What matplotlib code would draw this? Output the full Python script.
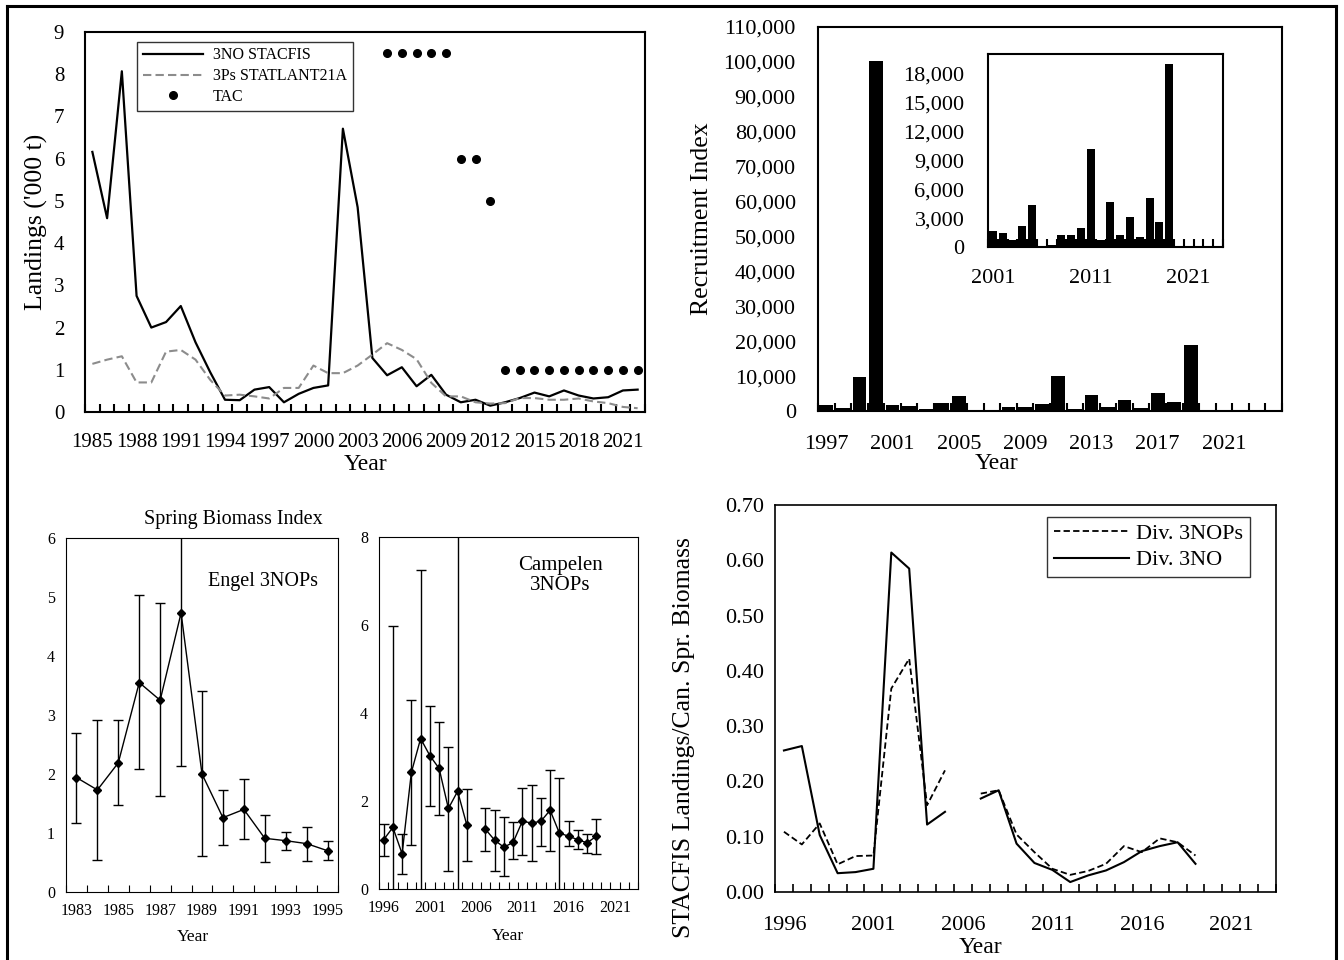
import numpy as np
import matplotlib
matplotlib.use('Agg')
import matplotlib.pyplot as plt
from matplotlib.lines import Line2D
from matplotlib.ticker import FuncFormatter

plt.rcParams['font.family'] = ['Liberation Serif', 'DejaVu Serif']

# ------------------------
# data
# ------------------------

# landings ('000 t)
land_years = np.arange(1985, 2023)
land_3no = [6.16, 4.59, 8.07, 2.75, 2.00, 2.13, 2.51, 1.65, 0.94, 0.29,
            0.28, 0.53, 0.59, 0.23, 0.43, 0.57, 0.63, 6.71, 4.85, 1.28,
            0.87, 1.06, 0.61, 0.88, 0.41, 0.23, 0.29, 0.15, 0.23, 0.33,
            0.46, 0.37, 0.51, 0.39, 0.32, 0.35, 0.51, 0.53]
land_3ps = [1.14, 1.24, 1.32, 0.70, 0.70, 1.43, 1.47, 1.24, 0.76, 0.39,
            0.41, 0.37, 0.32, 0.57, 0.57, 1.10, 0.92, 0.92, 1.10, 1.36,
            1.63, 1.47, 1.25, 0.69, 0.37, 0.37, 0.23, 0.20, 0.21, 0.33,
            0.33, 0.29, 0.29, 0.32, 0.25, 0.21, 0.12, 0.09]
tac_years = np.arange(2005, 2023)
tac = [8.5, 8.5, 8.5, 8.5, 8.5, 6, 6, 5, 1, 1, 1, 1, 1, 1, 1, 1, 1, 1]

# recruitment index
rec_years = np.arange(1997, 2020)
rec_index = [1800, 950, 9700, 100300, 1650, 1450, 700, 2150, 4400, np.nan,
             250, 1200, 1250, 2000, 10150, 700, 4700, 1200, 3100, 1000,
             5100, 2600, 19000]

# Engel spring biomass index 3NOPs
eng_years = np.arange(1983, 1996)
eng_val = [1.94, 1.73, 2.19, 3.55, 3.25, 4.73, 2.00, 1.26, 1.40, 0.91, 0.87, 0.82, 0.70]
eng_hi = [2.69, 2.91, 2.91, 5.03, 4.90, 7.30, 3.40, 1.73, 1.91, 1.31, 1.02, 1.11, 0.86]
eng_lo = [1.17, 0.55, 1.47, 2.09, 1.62, 2.14, 0.61, 0.79, 0.89, 0.51, 0.71, 0.53, 0.54]

# Campelen spring biomass index 3NOPs
camp_years = np.arange(1996, 2020)
camp_val = [1.12, 1.40, 0.80, 2.65, 3.42, 3.03, 2.74, 1.83, 2.22, 1.45, np.nan, 1.36,
            1.11, 0.95, 1.06, 1.54, 1.50, 1.54, 1.79, 1.27, 1.20, 1.12, 1.05, 1.20]
camp_hi = [1.48, 5.98, 1.25, 4.30, 7.26, 4.17, 3.79, 3.23, 9.50, 2.27, np.nan, 1.84,
           1.79, 1.64, 1.52, 2.30, 2.37, 2.07, 2.70, 2.52, 1.54, 1.33, 1.25, 1.59]
camp_lo = [0.76, -1.50, 0.34, 1.00, -0.50, 1.89, 1.68, 0.42, -1.20, 0.63, np.nan, 0.87,
           0.40, 0.29, 0.69, 0.77, 0.63, 0.98, 0.87, -0.05, 0.97, 0.91, 0.82, 0.80]

# landings / Canadian spring biomass
ratio_years = np.arange(1996, 2020)
ratio_3nops = [0.109, 0.086, 0.124, 0.050, 0.065, 0.066, 0.368, 0.422, 0.157, 0.220, np.nan, 0.178,
               0.184, 0.104, 0.072, 0.042, 0.031, 0.038, 0.051, 0.083, 0.072, 0.097, 0.090, 0.066]
ratio_3no = [0.256, 0.264, 0.103, 0.034, 0.036, 0.042, 0.614, 0.585, 0.122, 0.145, np.nan, 0.169,
             0.184, 0.0875, 0.0525, 0.040, 0.018, 0.030, 0.039, 0.054, 0.074, 0.083, 0.090, 0.051]

W, H = 1344, 960
fig = plt.figure(figsize=(W / 100, H / 100), dpi=100)


def box(l, t, r, b):
    return [l / W, (H - b) / H, (r - l) / W, (b - t) / H]


def cat_axis(ax, first, last, labels, lw, size, xpad=8, ypad=8, tick_len=6):
    ax.set_xlim(first - 0.5, last + 0.5)
    ax.set_xticks(labels)
    ax.set_xticks(np.arange(first - 0.5, last + 1.0, 1.0), minor=True)
    ax.tick_params(axis='x', which='major', length=0, labelsize=size, pad=xpad)
    ax.tick_params(axis='x', which='minor', direction='in', length=tick_len, width=lw)
    ax.tick_params(axis='y', length=0, labelsize=size, pad=ypad)
    for s in ax.spines.values():
        s.set_linewidth(lw)


# ---- top left: landings
ax1 = fig.add_axes(box(85, 32, 645, 412))
ax1.plot(land_years, land_3no, color='black', lw=1.6, label='3NO STACFIS')
ax1.plot(land_years, land_3ps, color='#8c8c8c', lw=1.5, ls=(0, (4, 2)), label='3Ps STATLANT21A')
ax1.plot(tac_years, tac, 'o', color='black', ms=5.5, ls='none', label='TAC')
ax1.set_ylim(0, 9)
ax1.set_yticks(range(0, 10))
cat_axis(ax1, 1985, 2022, np.arange(1985, 2022, 3), 1.5, 15, xpad=15, ypad=15)
ax1.set_ylabel("Landings ('000 t)", fontsize=18.5)
ax1.yaxis.set_label_coords(-0.066, 0.5)
ax1.set_xlabel('Year', fontsize=17)
ax1.xaxis.set_label_coords(0.5, -0.11)
leg = ax1.legend(loc='upper left', bbox_to_anchor=(0.093, 0.974), fontsize=11.5, frameon=True,
                 fancybox=False, edgecolor='black', handlelength=3.8, borderpad=0.35,
                 labelspacing=0.3, handletextpad=0.6, borderaxespad=0)
leg.get_frame().set_linewidth(1.0)

# ---- top right: recruitment index
ax2 = fig.add_axes(box(818, 27, 1282, 411))
ax2.bar(rec_years, rec_index, width=0.82, color='black')
ax2.set_ylim(0, 110000)
ax2.set_yticks(np.arange(0, 110001, 10000))
ax2.yaxis.set_major_formatter(FuncFormatter(lambda v, p: f'{v:,.0f}'))
cat_axis(ax2, 1997, 2024, np.arange(1997, 2024, 4), 1.5, 16, xpad=17, ypad=16)
ax2.set_ylabel('Recruitment Index', fontsize=18.5)
ax2.yaxis.set_label_coords(-0.226, 0.5)
ax2.set_xlabel('Year', fontsize=17)
ax2.xaxis.set_label_coords(0.384, -0.11)

ins = fig.add_axes(box(988, 54, 1223, 247))
ins.bar(rec_years[4:], rec_index[4:], width=0.82, color='black')
ins.set_ylim(0, 20000)
ins.set_yticks(np.arange(0, 18001, 3000))
ins.yaxis.set_major_formatter(FuncFormatter(lambda v, p: f'{v:,.0f}'))
cat_axis(ins, 2001, 2024, [2001, 2011, 2021], 1.5, 16, xpad=16, ypad=17)

# ---- bottom left: Engel spring biomass
ax3 = fig.add_axes(box(66, 538, 338, 892))
e_val = np.array(eng_val)
ax3.errorbar(eng_years, e_val, yerr=[e_val - np.array(eng_lo), np.array(eng_hi) - e_val],
             color='black', lw=1.0, marker='D', ms=4.5, capsize=3.5, elinewidth=1.0, capthick=1.0)
ax3.set_ylim(0, 6)
ax3.set_yticks(range(0, 7))
cat_axis(ax3, 1983, 1995, np.arange(1983, 1996, 2), 0.8, 11.5, tick_len=5)
ax3.set_xlabel('Year', fontsize=12.5)
ax3.xaxis.set_label_coords(0.467, -0.105)
ax3.text(0.614, 1.052, 'Spring Biomass Index', transform=ax3.transAxes, ha='center',
         va='center', fontsize=14.5)
ax3.text(0.724, 0.876, 'Engel 3NOPs', transform=ax3.transAxes, ha='center',
         va='center', fontsize=14.5)

# ---- bottom middle: Campelen spring biomass
ax4 = fig.add_axes(box(379, 537, 638, 889))
c_val = np.array(camp_val)
ax4.errorbar(camp_years, c_val, yerr=[c_val - np.array(camp_lo), np.array(camp_hi) - c_val],
             color='black', lw=1.0, marker='D', ms=4.5, capsize=3.5, elinewidth=1.0, capthick=1.0)
ax4.set_ylim(0, 8)
ax4.set_yticks(range(0, 9, 2))
cat_axis(ax4, 1996, 2023, np.arange(1996, 2024, 5), 0.8, 11.5, tick_len=5)
ax4.set_xlabel('Year', fontsize=12.5)
ax4.xaxis.set_label_coords(0.498, -0.112)
ax4.text(0.70, 0.89, 'Campelen\n3NOPs', transform=ax4.transAxes, ha='center',
         va='center', fontsize=15, linespacing=1.05)

# ---- bottom right: landings / biomass ratio
ax5 = fig.add_axes(box(775, 505, 1276, 892))
ax5.plot(ratio_years, ratio_3nops, color='black', lw=1.3, ls=(0, (3.5, 1.8)), label='Div. 3NOPs')
ax5.plot(ratio_years, ratio_3no, color='black', lw=1.5, label='Div. 3NO')
ax5.set_ylim(0, 0.7)
ax5.set_yticks(np.arange(0, 0.701, 0.1))
ax5.yaxis.set_major_formatter(FuncFormatter(lambda v, p: f'{v:.2f}'))
cat_axis(ax5, 1996, 2023, np.arange(1996, 2024, 5), 1.2, 16, xpad=17)
ax5.set_ylabel('STACFIS Landings/Can. Spr. Biomass', fontsize=18.5)
ax5.yaxis.set_label_coords(-0.16, 0.40)
ax5.set_xlabel('Year', fontsize=17)
ax5.xaxis.set_label_coords(0.41, -0.115)
leg5 = ax5.legend(loc='upper left', bbox_to_anchor=(0.543, 0.969), fontsize=16, frameon=True,
                  fancybox=False, edgecolor='black', handlelength=3.4, borderpad=0.3,
                  labelspacing=0.25, handletextpad=0.3, borderaxespad=0)
leg5.get_frame().set_linewidth(1.0)

# outer frame (left, top, right)
fw = 2.2
fig.add_artist(Line2D([7 / W, 7 / W], [0, 1 - 6 / H], transform=fig.transFigure, color='black', lw=fw))
fig.add_artist(Line2D([7 / W, 1336 / W], [1 - 6 / H, 1 - 6 / H], transform=fig.transFigure, color='black', lw=fw))
fig.add_artist(Line2D([1336 / W, 1336 / W], [0, 1 - 6 / H], transform=fig.transFigure, color='black', lw=fw))

fig.savefig('out.png', dpi=100)
